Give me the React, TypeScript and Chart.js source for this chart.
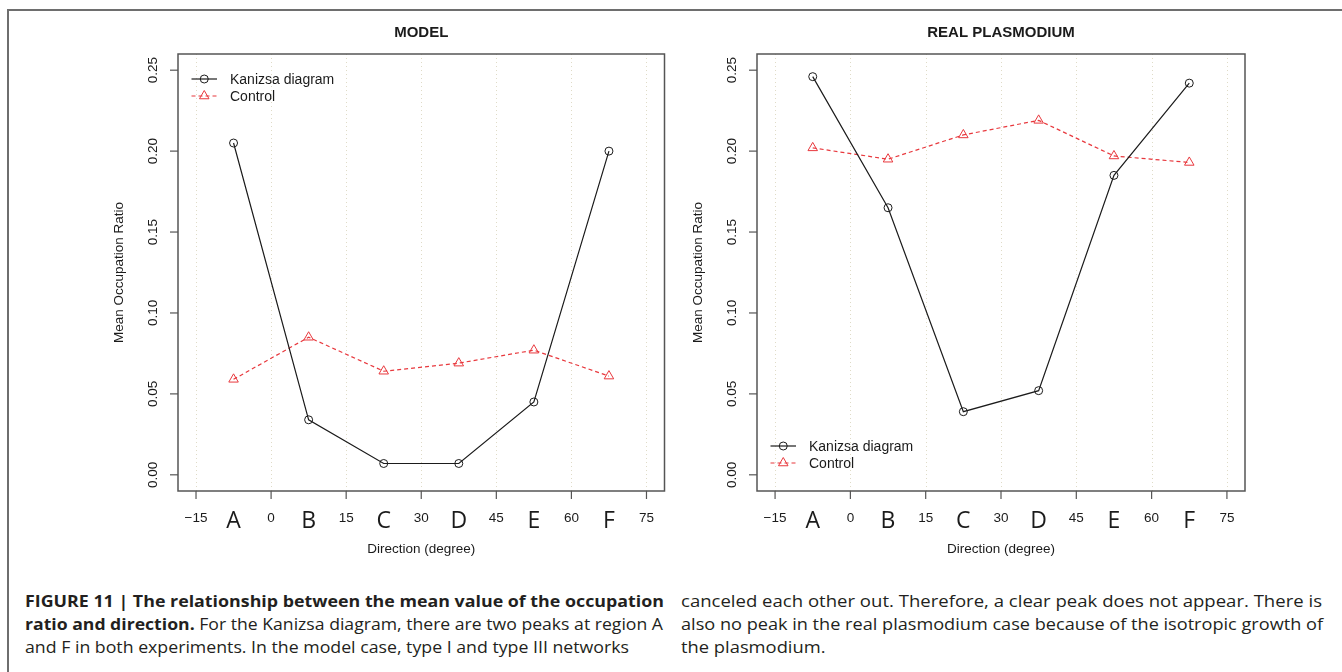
import React, { useEffect, useLayoutEffect, useRef } from "react";
import { Chart, registerables } from "chart.js";

Chart.register(...registerables);

// ---------- data ----------
const regions = ["A", "B", "C", "D", "E", "F"];
const directions = [-7.5, 7.5, 22.5, 37.5, 52.5, 67.5];
const xTicks = [-15, 0, 15, 30, 45, 60, 75];
const xTickLabels = ["\u221215", "0", "15", "30", "45", "60", "75"];
const yTicks = [0, 0.05, 0.1, 0.15, 0.2, 0.25];
const yTickLabels = ["0.00", "0.05", "0.10", "0.15", "0.20", "0.25"];
const seriesNames = ["Kanizsa diagram", "Control"];
const modelKanizsa = [0.205, 0.034, 0.007, 0.007, 0.045, 0.2];
const modelControl = [0.059, 0.085, 0.064, 0.069, 0.077, 0.061];
const realKanizsa = [0.246, 0.165, 0.039, 0.052, 0.185, 0.242];
const realControl = [0.202, 0.195, 0.21, 0.219, 0.197, 0.193];
const panelTitles = ["MODEL", "REAL PLASMODIUM"];
const xAxisTitle = "Direction (degree)";
const yAxisTitle = "Mean Occupation Ratio";

// ---------- style ----------
const FONT = '"Liberation Sans", Arial, Helvetica, sans-serif';
const LETTER_FONT = '"Open Sans", "Noto Sans", sans-serif';
const INK = "#1b1b1b";
const RED = "#e8383d";
const AXIS = "#555555";
const GRID = "rgba(215,210,185,0.8)";

const X_MIN = -18.6;
const X_MAX = 78.6;
const Y_MIN = -0.01;
const Y_MAX = 0.26;

function drawMarker(ctx: CanvasRenderingContext2D, style: string, x: number, y: number, r: number, color: string) {
  ctx.save();
  ctx.setLineDash([]);
  ctx.strokeStyle = color;
  ctx.lineWidth = 1;
  ctx.beginPath();
  if (style === "circle") {
    ctx.arc(x, y, r, 0, Math.PI * 2);
  } else {
    for (let k = 0; k < 3; k++) {
      const a = (k * 2 * Math.PI) / 3;
      const px = x + Math.sin(a) * r;
      const py = y - Math.cos(a) * r;
      if (k === 0) ctx.moveTo(px, py);
      else ctx.lineTo(px, py);
    }
    ctx.closePath();
  }
  ctx.stroke();
  ctx.restore();
}

const rAxesPlugin = {
  id: "rAxes",
  beforeDatasetsDraw(chart: any) {
    const { ctx, chartArea: ca, scales } = chart;
    const x = scales.x;
    ctx.save();
    ctx.strokeStyle = GRID;
    ctx.lineWidth = 1;
    ctx.setLineDash([1, 3]);
    for (const v of xTicks) {
      const px = Math.round(x.getPixelForValue(v)) + 0.5;
      ctx.beginPath();
      ctx.moveTo(px, ca.top);
      ctx.lineTo(px, ca.bottom);
      ctx.stroke();
    }
    ctx.restore();
  },
  afterDatasetsDraw(chart: any, _args: any, opts: any) {
    const { ctx, chartArea: ca, scales } = chart;
    const x = scales.x;
    const y = scales.y;
    ctx.save();
    // box
    ctx.strokeStyle = AXIS;
    ctx.lineWidth = 1.5;
    ctx.setLineDash([]);
    ctx.strokeRect(ca.left, ca.top, ca.right - ca.left, ca.bottom - ca.top);
    // x ticks
    ctx.lineWidth = 1.2;
    ctx.fillStyle = INK;
    ctx.font = `13.5px ${FONT}`;
    ctx.textAlign = "center";
    ctx.textBaseline = "middle";
    xTicks.forEach((v, i) => {
      const px = x.getPixelForValue(v);
      ctx.beginPath();
      ctx.moveTo(px, ca.bottom);
      ctx.lineTo(px, ca.bottom + 8);
      ctx.stroke();
      ctx.fillText(xTickLabels[i], px, ca.bottom + 27);
    });
    // region letters
    ctx.font = `23px ${LETTER_FONT}`;
    ctx.textBaseline = "alphabetic";
    regions.forEach((r, i) => {
      ctx.fillText(r, x.getPixelForValue(directions[i]), ca.bottom + 37);
    });
    // y ticks
    ctx.font = `13.5px ${FONT}`;
    ctx.textBaseline = "middle";
    yTicks.forEach((v, i) => {
      const py = y.getPixelForValue(v);
      ctx.beginPath();
      ctx.moveTo(ca.left, py);
      ctx.lineTo(ca.left - 8, py);
      ctx.stroke();
      ctx.save();
      ctx.translate(ca.left - 25, py);
      ctx.rotate(-Math.PI / 2);
      ctx.fillText(yTickLabels[i], 0, 0);
      ctx.restore();
    });
    // axis titles
    const cx = (ca.left + ca.right) / 2;
    const cy = (ca.top + ca.bottom) / 2;
    ctx.font = `13.5px ${FONT}`;
    ctx.fillText(xAxisTitle, cx, ca.bottom + 58);
    ctx.save();
    ctx.translate(ca.left - 59, cy);
    ctx.rotate(-Math.PI / 2);
    ctx.fillText(yAxisTitle, 0, 0);
    ctx.restore();
    // main title
    ctx.font = `bold 15px ${FONT}`;
    ctx.fillText(opts.title, cx, ca.top - 21);
    // legend
    const rows: number[] = opts.legendRows;
    ctx.font = `14px ${FONT}`;
    ctx.textAlign = "left";
    chart.data.datasets.forEach((ds: any, i: number) => {
      const ly = rows[i];
      const x0 = ca.left + 13.5;
      const x1 = ca.left + 39;
      ctx.save();
      ctx.strokeStyle = ds.borderColor;
      ctx.lineWidth = ds.borderWidth;
      ctx.setLineDash(ds.borderDash || []);
      ctx.beginPath();
      ctx.moveTo(x0, ly);
      ctx.lineTo(x1, ly);
      ctx.stroke();
      ctx.restore();
      drawMarker(ctx, ds.pointStyle, (x0 + x1) / 2, ly, ds.pointRadius, ds.borderColor);
      ctx.fillStyle = INK;
      ctx.fillText(ds.label, ca.left + 52, ly + 1);
    });
    ctx.restore();
  },
};

function toPoints(vals: number[]) {
  return directions.map((d, i) => ({ x: d, y: vals[i] }));
}

function Panel(props: {
  left: number;
  kanizsa: number[];
  control: number[];
  title: string;
  padding: { left: number; right: number; top: number; bottom: number };
  legendRows: number[];
}) {
  const ref = useRef<HTMLCanvasElement | null>(null);
  useEffect(() => {
    if (!ref.current) return;
    const chart = new Chart(ref.current, {
      type: "line",
      data: {
        datasets: [
          {
            label: seriesNames[0],
            data: toPoints(props.kanizsa),
            borderColor: INK,
            borderWidth: 1.2,
            pointStyle: "circle",
            pointRadius: 4,
            pointBorderWidth: 1,
            pointBackgroundColor: "rgba(0,0,0,0)",
            pointBorderColor: INK,
            tension: 0,
          },
          {
            label: seriesNames[1],
            data: toPoints(props.control),
            borderColor: RED,
            borderWidth: 1.2,
            borderDash: [4, 3],
            pointStyle: "triangle",
            pointRadius: 5.5,
            pointBorderWidth: 1,
            pointBackgroundColor: "rgba(0,0,0,0)",
            pointBorderColor: RED,
            tension: 0,
          },
        ],
      } as any,
      options: {
        animation: false,
        responsive: false,
        devicePixelRatio: 1,
        layout: { padding: props.padding },
        scales: {
          x: { type: "linear", min: X_MIN, max: X_MAX, display: false },
          y: { type: "linear", min: Y_MIN, max: Y_MAX, display: false },
        },
        plugins: {
          legend: { display: false },
          title: { display: false },
          tooltip: { enabled: false },
          rAxes: { title: props.title, legendRows: props.legendRows },
        } as any,
        events: [],
      },
      plugins: [rAxesPlugin as any],
    });
    return () => chart.destroy();
  }, []);
  return (
    <canvas
      ref={ref}
      width={671}
      height={580}
      style={{ position: "absolute", left: props.left, top: 0, width: 671, height: 580 }}
    />
  );
}

const CAPTION_FONT = '"Open Sans", "Noto Sans", sans-serif';

type LineSpec = { left: number; top: number; width?: number; content: React.ReactNode; col: number };

const captionLines: LineSpec[] = [
  { col: 0, left: 25, top: 590, width: 639, content: <b>FIGURE 11 | The relationship between the mean value of the occupation</b> },
  {
    col: 0,
    left: 25,
    top: 613,
    width: 638,
    content: (
      <>
        <b>ratio and direction.</b> For the Kanizsa diagram, there are two peaks at region A
      </>
    ),
  },
  { col: 0, left: 25, top: 636, content: <>and F in both experiments. In the model case, type I and type III networks</> },
  { col: 1, left: 681, top: 590, width: 641, content: <>canceled each other out. Therefore, a clear peak does not appear. There is</> },
  { col: 1, left: 681, top: 613, width: 642, content: <>also no peak in the real plasmodium case because of the isotropic growth of</> },
  { col: 1, left: 681, top: 636, content: <>the plasmodium.</> },
];

function Caption() {
  const refs = useRef<(HTMLDivElement | null)[]>([]);
  useLayoutEffect(() => {
    const fit = () => {
      const scales: number[] = [];
      const colScale: number[][] = [[], []];
      captionLines.forEach((l, i) => {
        const el = refs.current[i];
        if (!el) return;
        el.style.transform = "none";
        const w = el.getBoundingClientRect().width;
        if (l.width && w > 0) {
          scales[i] = l.width / w;
          colScale[l.col].push(scales[i]);
        }
      });
      captionLines.forEach((l, i) => {
        const el = refs.current[i];
        if (!el) return;
        let s = scales[i];
        if (!s) {
          const c = colScale[l.col];
          s = c.length ? c.reduce((a, b) => a + b, 0) / c.length : 1;
        }
        el.style.transform = `scaleX(${s})`;
      });
    };
    fit();
    const fonts = (document as any).fonts;
    if (fonts && fonts.ready) fonts.ready.then(fit);
  }, []);
  return (
    <>
      {captionLines.map((l, i) => (
        <div
          key={i}
          ref={(el) => {
            refs.current[i] = el;
          }}
          style={{
            position: "absolute",
            left: l.left,
            top: l.top,
            whiteSpace: "nowrap",
            fontFamily: CAPTION_FONT,
            fontSize: 15.5,
            lineHeight: "23px",
            color: "#231f20",
            transformOrigin: "0 0",
            display: "inline-block",
          }}
        >
          {l.content}
        </div>
      ))}
    </>
  );
}

export default function App() {
  return (
    <div
      style={{
        position: "fixed",
        left: 0,
        top: 0,
        width: 1342,
        height: 672,
        background: "#fff",
        overflow: "hidden",
      }}
    >
      <div style={{ position: "absolute", left: 7, top: 9, width: 1335, height: 2, background: "#6e6e6e" }} />
      <div style={{ position: "absolute", left: 7, top: 9, width: 2, height: 663, background: "#6e6e6e" }} />
      <Panel
        left={0}
        kanizsa={modelKanizsa}
        control={modelControl}
        title={panelTitles[0]}
        padding={{ left: 178, right: 4, top: 54, bottom: 89 }}
        legendRows={[79, 96]}
      />
      <Panel
        left={671}
        kanizsa={realKanizsa}
        control={realControl}
        title={panelTitles[1]}
        padding={{ left: 86, right: 97, top: 54, bottom: 89 }}
        legendRows={[446, 463]}
      />
      <Caption />
    </div>
  );
}
